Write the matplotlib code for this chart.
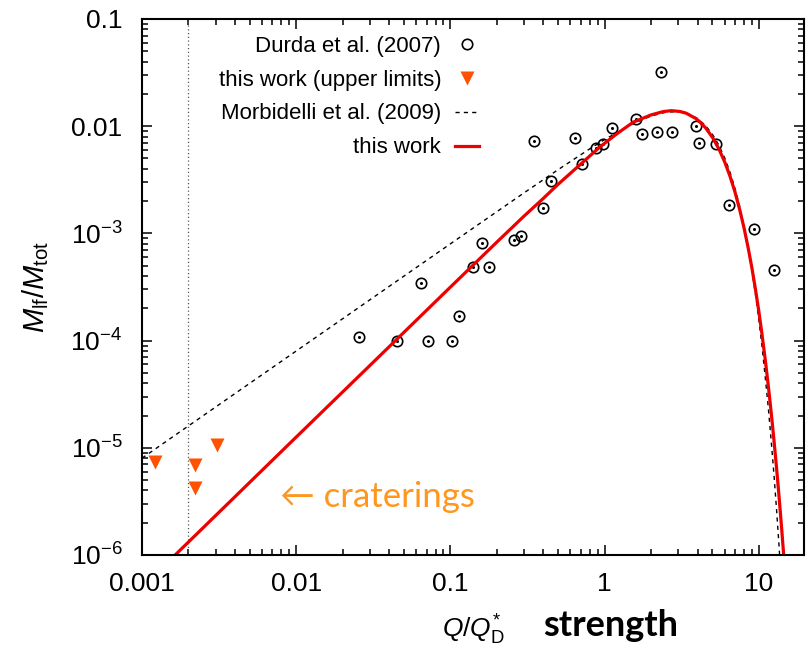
import matplotlib
matplotlib.use("Agg")
import matplotlib.pyplot as plt
from matplotlib.ticker import FixedLocator, FixedFormatter, LogLocator, NullFormatter

plt.rcParams['font.family'] = ['Liberation Sans', 'DejaVu Sans']
plt.rcParams['mathtext.fontset'] = 'custom'
plt.rcParams['mathtext.rm'] = 'Liberation Sans'
plt.rcParams['mathtext.it'] = 'Liberation Sans:italic'
plt.rcParams['mathtext.bf'] = 'Liberation Sans:bold'

# Durda et al. (2007) laboratory points
durda_q = [0.0255, 0.0448, 0.0718, 0.103, 0.114, 0.064, 0.140, 0.177, 0.160, 0.257,
           0.287, 0.349, 0.400, 0.446, 0.640, 0.710, 0.875, 0.980, 1.11, 1.59,
           1.75, 2.17, 2.33, 2.73, 3.89, 4.11, 5.30, 6.43, 9.30, 12.6]
durda_m = [1.09e-4, 1.0e-4, 1.0e-4, 1.0e-4, 1.7e-4, 3.45e-4, 4.86e-4, 4.9e-4, 8.2e-4, 8.6e-4,
           9.5e-4, 7.3e-3, 1.73e-3, 3.1e-3, 7.8e-3, 4.4e-3, 6.2e-3, 6.8e-3, 9.7e-3, 1.17e-2,
           8.5e-3, 8.8e-3, 3.2e-2, 8.8e-3, 1.01e-2, 6.9e-3, 6.8e-3, 1.83e-3, 1.11e-3, 4.58e-4]

# this work, upper limits (craterings)
lim_q = [0.00122, 0.0022, 0.0022, 0.00305]
lim_m = [7.4e-6, 6.9e-6, 4.2e-6, 1.06e-5]

# Morbidelli et al. (2009) curve
morb_q = [0.001, 0.01, 0.1, 0.3, 0.5, 0.8, 1.0, 1.5, 2.0, 2.5, 3.0, 3.5, 4.0, 4.5,
          5.0, 5.5, 6.0, 6.5, 7.0, 7.5, 8.0, 8.5, 9.0, 9.5, 10.0, 10.5, 11.0, 11.5,
          12.0, 12.5, 13.0, 13.5, 14.0]
morb_m = [8.0e-6, 8.0e-5, 8.0e-4, 2.39e-3, 3.94e-3, 6.15e-3, 7.52e-3, 1.043e-2, 1.246e-2,
          1.353e-2, 1.368e-2, 1.302e-2, 1.177e-2, 1.016e-2, 8.38e-3, 6.64e-3, 5.06e-3,
          3.71e-3, 2.62e-3, 1.78e-3, 1.17e-3, 7.44e-4, 4.56e-4, 2.7e-4, 1.54e-4, 8.54e-5,
          4.5e-5, 2.37e-5, 1.18e-5, 5.74e-6, 2.7e-6, 1.22e-6, 5.3e-7]

# this work, fitted curve
fit_q = [0.00164, 0.003, 0.01, 0.03, 0.1, 0.2, 0.3, 0.4, 0.5, 0.7, 0.93, 1.2, 1.53, 2.0,
         2.4, 2.71, 3.07, 3.37, 3.9, 4.13, 4.5, 5.0, 5.5, 6.0, 6.5, 7.0, 7.5, 8.0, 8.5,
         9.0, 9.5, 10.0, 10.5, 11.0, 11.5, 12.0, 12.5, 13.0, 13.5, 14.0, 14.5]
fit_m = [1.0e-6, 2.33e-6, 1.26e-5, 5.85e-5, 3.16e-4, 8.3e-4, 1.45e-3, 2.12e-3, 2.88e-3,
         4.44e-3, 6.4e-3, 8.5e-3, 1.09e-2, 1.275e-2, 1.37e-2, 1.396e-2, 1.372e-2, 1.324e-2,
         1.179e-2, 1.103e-2, 9.69e-3, 7.86e-3, 6.14e-3, 4.64e-3, 3.4e-3, 2.42e-3, 1.67e-3,
         1.131e-3, 7.43e-4, 4.79e-4, 3.0e-4, 1.85e-4, 1.11e-4, 6.57e-5, 3.8e-5, 2.16e-5,
         1.2e-5, 6.57e-6, 3.53e-6, 1.86e-6, 9.66e-7]

q_limit = 0.002

x_ticks = [0.001, 0.01, 0.1, 1, 10]
x_labels = ['0.001', '0.01', '0.1', '1', '10']
y_ticks = [1e-6, 1e-5, 1e-4, 1e-3, 1e-2, 1e-1]
y_labels = [r'$10^{-6}$', r'$10^{-5}$', r'$10^{-4}$', r'$10^{-3}$', '0.01', '0.1']

fig = plt.figure(figsize=(8.07, 6.47), dpi=100)
ax = fig.add_axes([142/807, 1-555/647, (804-142)/807, (555-19)/647])

ax.axvline(q_limit, color='#555555', lw=0.9, ls=(0, (1, 2)))
ax.plot(durda_q, durda_m, ls='none', marker='o', ms=7.5, mfc='none', mec='black', mew=1.2,
        label='Durda et al. (2007)')
ax.plot(durda_q, durda_m, ls='none', marker='o', ms=1.2, color='black')
ax.plot(lim_q, lim_m, ls='none', marker='v', ms=10, color='#ff5200', mec='none',
        label='this work (upper limits)')
ax.plot(morb_q, morb_m, color='black', lw=1, ls=(0, (3, 3)), label='Morbidelli et al. (2009)')
ax.plot(fit_q, fit_m, color='#ee0000', lw=2.3, label='this work')

ax.set_xscale('log')
ax.set_yscale('log')
ax.set_xlim(0.001, 19.6)
ax.set_ylim(1e-6, 0.1)

ax.xaxis.set_major_locator(FixedLocator(x_ticks))
ax.xaxis.set_major_formatter(FixedFormatter(x_labels))
ax.yaxis.set_major_locator(FixedLocator(y_ticks))
ax.yaxis.set_major_formatter(FixedFormatter(y_labels))
ax.xaxis.set_minor_locator(LogLocator(base=10, subs=range(2, 10), numticks=20))
ax.yaxis.set_minor_locator(LogLocator(base=10, subs=range(2, 10), numticks=20))
ax.xaxis.set_minor_formatter(NullFormatter())
ax.yaxis.set_minor_formatter(NullFormatter())

ax.tick_params(which='both', direction='in', top=True, right=True, width=1.1, labelsize=19)
ax.tick_params(which='major', length=7)
ax.tick_params(which='minor', length=4)
ax.tick_params(axis='y', pad=14)
ax.tick_params(axis='x', pad=12)
for s in ax.spines.values():
    s.set_linewidth(1.5)

ax.set_ylabel(r'$M_\mathrm{lf}/M_\mathrm{tot}$', fontsize=21, labelpad=14)
ax.set_xlabel(r'$Q/Q_\mathrm{D}^{*}$', fontsize=19, labelpad=12)
fig.text(543/807, 1-636/647, 'strength', family=['Lato', 'DejaVu Sans'], weight='bold',
         fontsize=26, ha='left', va='baseline')
ax.text(0.0078, 3.5e-6, '← craterings', family=['Lato', 'DejaVu Sans'], color='#ff961e',
        fontsize=25, ha='left', va='center')

leg = ax.legend(loc='upper right', bbox_to_anchor=(0.509, 0.969), frameon=False,
                markerfirst=False, fontsize=16, handlelength=1.1, handletextpad=0.6,
                labelspacing=0.58, borderpad=0, borderaxespad=0)

fig.savefig('out.png', dpi=100, facecolor='white')
